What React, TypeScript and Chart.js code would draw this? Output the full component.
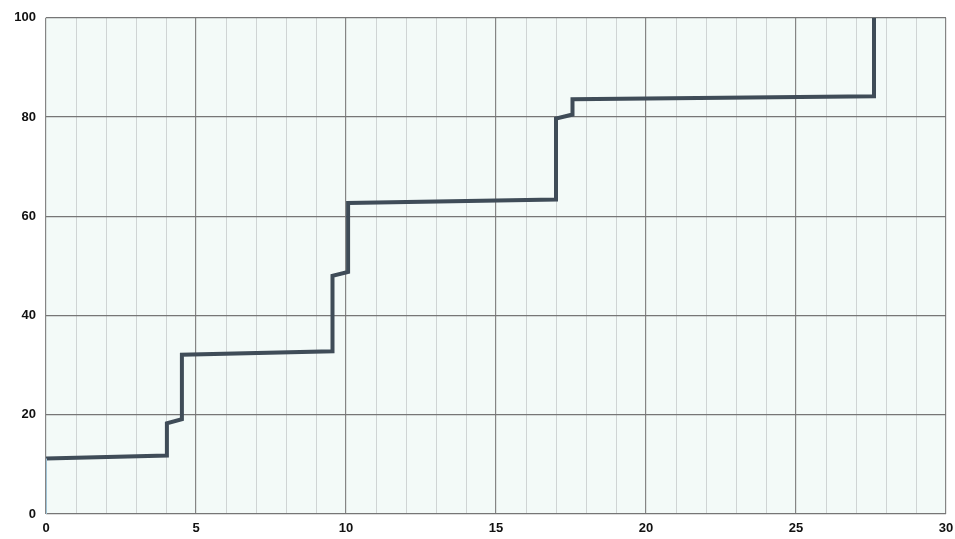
import React, { useEffect, useRef } from "react";
import { Chart, registerables } from "chart.js";

Chart.register(...registerables);

// Step curve corner points (x, y)
const stepX = [0, 4.03, 4.03, 4.53, 4.53, 9.55, 9.55, 10.07, 10.07, 17.0, 17.0, 17.55, 17.55, 27.6, 27.6];
const stepY = [11.2, 11.8, 18.3, 19.1, 32.1, 32.8, 48.0, 48.8, 62.7, 63.4, 79.7, 80.5, 83.6, 84.2, 100];
// faint initial riser
const riserX = [0, 0];
const riserY = [0, 11.2];

const xTicks = [0, 5, 10, 15, 20, 25, 30];
const yTicks = [0, 20, 40, 60, 80, 100];

export default function App() {
  const ref = useRef<HTMLCanvasElement>(null);
  useEffect(() => {
    const ctx = ref.current!;
    const chart = new Chart(ctx, {
      type: "scatter",
      data: {
        datasets: [
          {
            data: riserX.map((x, i) => ({ x, y: riserY[i] })),
            showLine: true,
            borderColor: "#9fc3d6",
            borderWidth: 2,
            pointRadius: 0,
          },
          {
            data: stepX.map((x, i) => ({ x, y: stepY[i] })),
            showLine: true,
            borderColor: "#3f4c58",
            borderWidth: 4,
            pointRadius: 0,
            borderJoinStyle: "miter",
          },
        ],
      },
      options: {
        animation: false,
        responsive: false,
        maintainAspectRatio: false,
        layout: { padding: { left: 0, right: 0, top: 16, bottom: 0 } },
        plugins: { legend: { display: false }, tooltip: { enabled: false } },
        scales: {
          x: {
            type: "linear",
            min: 0,
            max: 30,
            afterBuildTicks: (s: any) => {
              const t = [];
              for (let i = 0; i <= 30; i++) t.push({ value: i });
              s.ticks = t;
            },
            afterFit: (s: any) => {
              s.height = 25;
              s.paddingRight = 9;
              s.paddingLeft = 0;
            },
            ticks: {
              autoSkip: false,
              maxRotation: 0,
              padding: 7,
              color: "#111",
              font: { family: "Liberation Sans", size: 13, weight: "bold" },
              callback: (v: any) => (xTicks.includes(Number(v)) ? String(v) : ""),
            },
            grid: {
              drawTicks: false,
              color: (c: any) => (c.tick && c.tick.value % 5 === 0 ? "#858585" : "#cfd4d4"),
              lineWidth: (c: any) => (c.tick && c.tick.value % 5 === 0 ? 1.2 : 1),
            },
            border: { display: false },
          },
          y: {
            type: "linear",
            min: 0,
            max: 100,
            afterBuildTicks: (s: any) => {
              s.ticks = yTicks.map((v) => ({ value: v }));
            },
            afterFit: (s: any) => {
              s.width = 46;
            },
            ticks: {
              padding: 10,
              color: "#111",
              font: { family: "Liberation Sans", size: 13, weight: "bold" },
            },
            grid: {
              drawTicks: false,
              color: "#767676",
              lineWidth: 1.2,
            },
            border: { display: false },
          },
        },
      },
      plugins: [
        {
          id: "bg",
          beforeDraw: (c: any) => {
            const { ctx, chartArea: a } = c;
            ctx.save();
            ctx.fillStyle = "#f3faf8";
            ctx.fillRect(a.left, a.top, a.right - a.left, a.bottom - a.top);
            ctx.restore();
          },
        },
      ],
    } as any);
    return () => chart.destroy();
  }, []);
  return (
    <div style={{ position: "fixed", left: 0, top: 0, width: 955, height: 539, background: "#fff" }}>
      <canvas ref={ref} width={955} height={539} style={{ width: 955, height: 539 }} />
    </div>
  );
}
